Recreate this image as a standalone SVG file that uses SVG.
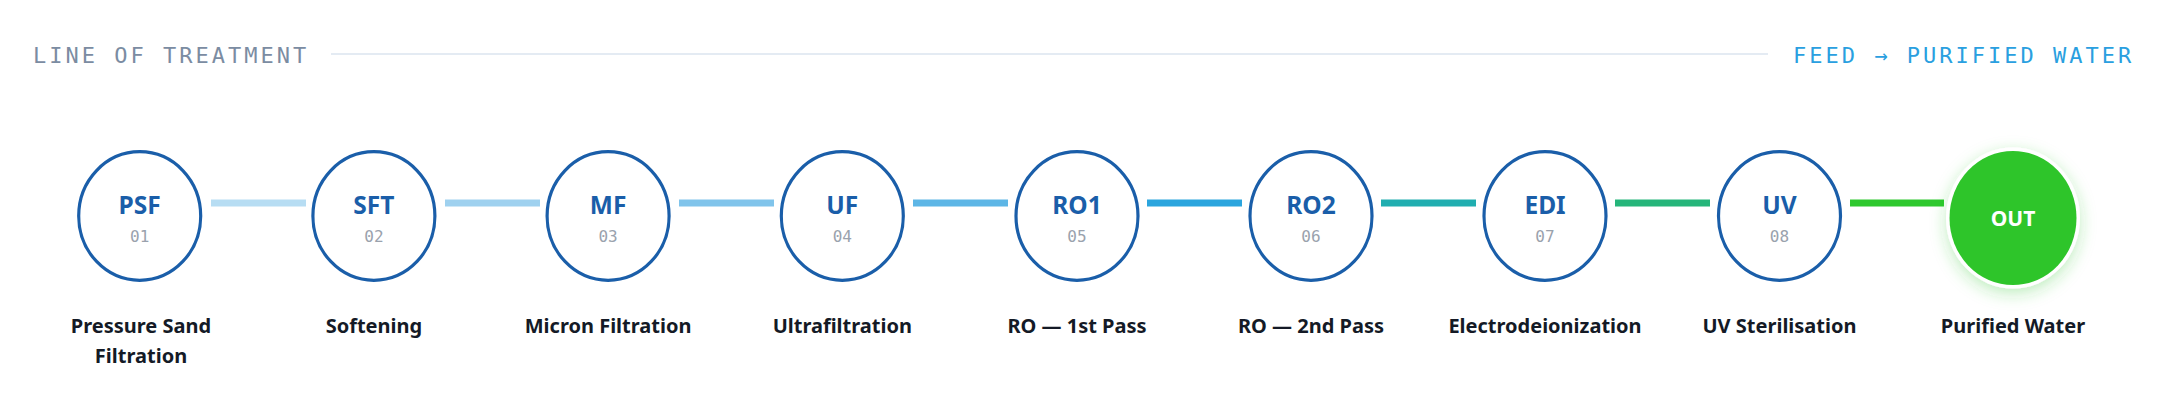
<svg xmlns="http://www.w3.org/2000/svg" width="2158" height="413" viewBox="0 0 2158 413">
<defs>
<style>
.hdr{font-family:"DejaVu Sans Mono","Liberation Mono",monospace;font-size:22px;letter-spacing:3px}
.node{fill:#ffffff;stroke:#1a5ea9;stroke-width:3.2}
.code{font-family:"Noto Sans","Liberation Sans",sans-serif;font-weight:700;font-size:24.5px;fill:#1a5ea9;text-anchor:middle}
.num{font-family:"DejaVu Sans Mono","Liberation Mono",monospace;font-size:16px;fill:#9aa2ad;text-anchor:middle}
.lbl{font-family:"Noto Sans","Liberation Sans",sans-serif;font-weight:700;font-size:20px;fill:#141a26;text-anchor:middle}
</style>
<filter id="glow" x="-50%" y="-50%" width="200%" height="200%">
<feDropShadow dx="0" dy="5" stdDeviation="8" flood-color="#2ec52a" flood-opacity="0.3"/>
</filter>
</defs>
<rect width="2158" height="413" fill="#ffffff"/>
<g id="header">
<text class="hdr" x="33" y="63" fill="#7b8ca2">LINE OF TREATMENT</text>
<rect x="331" y="53" width="1437" height="2" fill="#e4ebf3"/>
<text class="hdr" x="1793" y="63" fill="#2a9fe0">FEED → PURIFIED WATER</text>
</g>
<g id="connectors">
<rect x="211" y="199.5" width="95" height="7" fill="#b7ddf3"/>
<rect x="445" y="199.5" width="95" height="7" fill="#9fd1ef"/>
<rect x="679" y="199.5" width="95" height="7" fill="#80c4eb"/>
<rect x="913" y="199.5" width="95" height="7" fill="#5db6e6"/>
<rect x="1147" y="199.5" width="95" height="7" fill="#2ba5de"/>
<rect x="1381" y="199.5" width="95" height="7" fill="#20aeb0"/>
<rect x="1615" y="199.5" width="95" height="7" fill="#25b57a"/>
<rect x="1850" y="199.5" width="94" height="7" fill="#2ec82e"/>
</g>
<g id="n1"><ellipse class="node" cx="139.7" cy="216" rx="61" ry="64.3"/><text class="code" x="139.7" y="214">PSF</text><text class="num" x="139.7" y="242">01</text><text class="lbl" x="141" y="333">Pressure Sand</text><text class="lbl" x="141" y="363">Filtration</text></g>
<g id="n2"><ellipse class="node" cx="373.9" cy="216" rx="61" ry="64.3"/><text class="code" x="373.9" y="214">SFT</text><text class="num" x="373.9" y="242">02</text><text class="lbl" x="373.9" y="333">Softening</text></g>
<g id="n3"><ellipse class="node" cx="608.1" cy="216" rx="61" ry="64.3"/><text class="code" x="608.1" y="214">MF</text><text class="num" x="608.1" y="242">03</text><text class="lbl" x="608.1" y="333">Micron Filtration</text></g>
<g id="n4"><ellipse class="node" cx="842.3" cy="216" rx="61" ry="64.3"/><text class="code" x="842.3" y="214">UF</text><text class="num" x="842.3" y="242">04</text><text class="lbl" x="842.3" y="333">Ultrafiltration</text></g>
<g id="n5"><ellipse class="node" cx="1077" cy="216" rx="61" ry="64.3"/><text class="code" x="1077" y="214">RO1</text><text class="num" x="1077" y="242">05</text><text class="lbl" x="1077" y="333">RO — 1st Pass</text></g>
<g id="n6"><ellipse class="node" cx="1311" cy="216" rx="61" ry="64.3"/><text class="code" x="1311" y="214">RO2</text><text class="num" x="1311" y="242">06</text><text class="lbl" x="1311" y="333">RO — 2nd Pass</text></g>
<g id="n7"><ellipse class="node" cx="1545" cy="216" rx="61" ry="64.3"/><text class="code" x="1545" y="214">EDI</text><text class="num" x="1545" y="242">07</text><text class="lbl" x="1545" y="333">Electrodeionization</text></g>
<g id="n8"><ellipse class="node" cx="1779.5" cy="216" rx="61" ry="64.3"/><text class="code" x="1779.5" y="214">UV</text><text class="num" x="1779.5" y="242">08</text><text class="lbl" x="1779.5" y="333">UV Sterilisation</text></g>
<g id="n9"><ellipse cx="2013" cy="218" rx="67" ry="70.5" fill="#ffffff" filter="url(#glow)"/><ellipse cx="2013" cy="218" rx="63.5" ry="67" fill="#2ec52a"/><text x="2013" y="226" text-anchor="middle" font-family="'Noto Sans','Liberation Sans',sans-serif" font-weight="700" font-size="21" fill="#ffffff">OUT</text><text class="lbl" x="2013" y="333">Purified Water</text></g>
</svg>
